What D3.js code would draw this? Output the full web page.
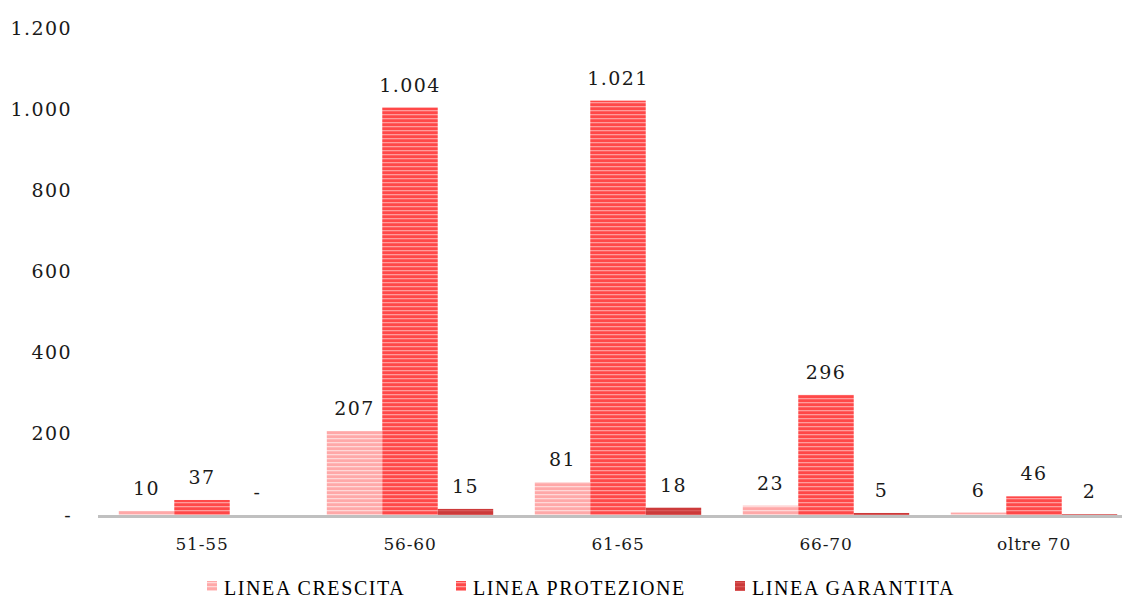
<!DOCTYPE html>
<meta charset="utf-8">
<style>
body { margin: 0; background: #fff; }
svg { display: block; }
.tick-label, .val, .cat {
  font-family: "DejaVu Serif", serif;
  font-size: 19px;
  letter-spacing: 1.4px;
  fill: #1a1a1a;
}
.leg {
  font-family: "Liberation Serif", serif;
  font-size: 20px;
  letter-spacing: 1.6px;
  fill: #000;
}
</style>
<svg width="1125" height="599"></svg>
<script src="https://d3js.org/d3.v7.min.js"></script>
<script>

// data
var categories = ["51-55", "56-60", "61-65", "66-70", "oltre 70"];
var seriesNames = ["LINEA CRESCITA", "LINEA PROTEZIONE", "LINEA GARANTITA"];
var crescita = [10, 207, 81, 23, 6];
var protezione = [37, 1004, 1021, 296, 46];
var garantita = [0, 15, 18, 5, 2];
var yTicks = [0, 200, 400, 600, 800, 1000, 1200];

var seriesValues = [crescita, protezione, garantita];
var baseColors = ["#ffa8a8", "#ff4848", "#cc3a3a"];
var stripeColors = ["#ffd8d8", "#ff9c9c", "#d85858"];

var svg = d3.select("svg");

var it = d3.formatLocale({decimal: ",", thousands: ".", grouping: [3], currency: ["€", ""]});
var fmt = function(v) { return v === 0 ? "-" : it.format(",")(v); };

var x0 = d3.scaleBand().domain(categories).range([98, 1138]).paddingInner(0.2).paddingOuter(0.1);
var x1 = d3.scaleBand().domain(d3.range(3)).range([0, x0.bandwidth()]);
var y = d3.scaleLinear().domain([0, 1200]).range([515, 28]);

// striped fills
var defs = svg.append("defs");
baseColors.forEach(function(c, i) {
  var p = defs.append("pattern")
    .attr("id", "pat" + i)
    .attr("patternUnits", "userSpaceOnUse")
    .attr("width", 10).attr("height", 4);
  p.append("rect").attr("width", 10).attr("height", 4).attr("fill", c);
  p.append("rect").attr("y", 2).attr("width", 10).attr("height", 1.3).attr("fill", stripeColors[i]);
});

// y labels (no axis line)
svg.append("g").selectAll("text")
  .data(yTicks)
  .enter().append("text")
    .attr("class", "tick-label")
    .attr("x", 72)
    .attr("y", function(d) { return y(d); })
    .attr("dy", "0.35em")
    .attr("text-anchor", "end")
    .text(fmt);

// bars
var rows = [];
categories.forEach(function(c, ci) {
  seriesValues.forEach(function(vals, si) {
    rows.push({cat: c, s: si, v: vals[ci]});
  });
});

svg.append("g").selectAll("rect")
  .data(rows)
  .enter().append("rect")
    .attr("x", function(d) { return x0(d.cat) + x1(d.s); })
    .attr("y", function(d) { return y(d.v); })
    .attr("width", x1.bandwidth())
    .attr("height", function(d) { return y(0) - y(d.v); })
    .attr("fill", function(d) { return "url(#pat" + d.s + ")"; });

// value labels
svg.append("g").selectAll("text")
  .data(rows)
  .enter().append("text")
    .attr("class", "val")
    .attr("x", function(d) { return x0(d.cat) + x1(d.s) + x1.bandwidth() / 2; })
    .attr("y", function(d) { return y(d.v) - 16; })
    .attr("text-anchor", "middle")
    .text(function(d) { return fmt(d.v); });

// baseline
svg.append("line")
  .attr("x1", 98).attr("x2", 1122)
  .attr("y1", y(0) + 1.5).attr("y2", y(0) + 1.5)
  .attr("stroke", "#c0c0c0")
  .attr("stroke-width", 3);

// category labels
svg.append("g").selectAll("text")
  .data(categories)
  .enter().append("text")
    .attr("class", "cat")
    .attr("x", function(d) { return x0(d) + x0.bandwidth() / 2; })
    .attr("y", 550)
    .attr("text-anchor", "middle")
    .style("font-size", "17px")
    .style("letter-spacing", "0.8px")
    .text(function(d) { return d; });

// legend
var legX = [207, 456, 735];
var leg = svg.append("g").selectAll("g")
  .data(seriesNames)
  .enter().append("g")
    .attr("transform", function(d, i) { return "translate(" + legX[i] + ",588)"; });
leg.append("rect")
  .attr("x", 0).attr("y", -7)
  .attr("width", 10).attr("height", 10)
  .attr("fill", function(d, i) { return "url(#pat" + i + ")"; });
leg.append("text")
  .attr("class", "leg")
  .attr("x", 17).attr("y", 0)
  .attr("dy", "0.35em")
  .text(function(d) { return d; });

</script>
